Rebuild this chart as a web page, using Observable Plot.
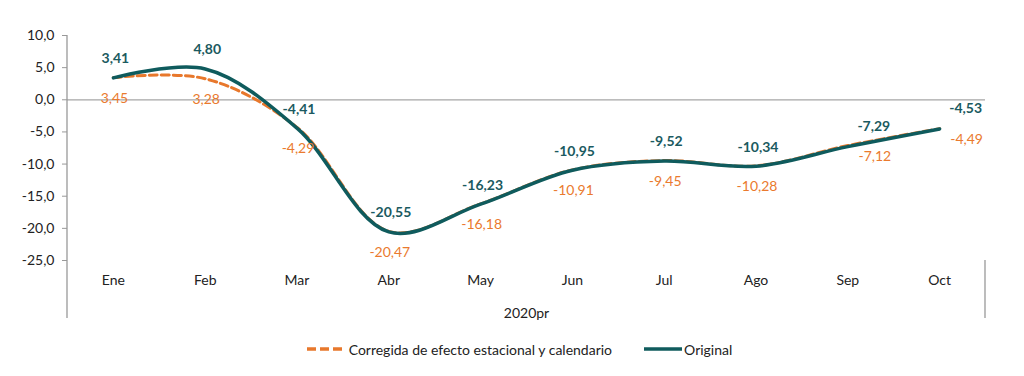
<!DOCTYPE html>
<html><head><meta charset="utf-8">
<script src="https://cdn.jsdelivr.net/npm/d3@7"></script>
<script src="https://cdn.jsdelivr.net/npm/@observablehq/plot@0.6"></script>
<style>
body{margin:0;background:#fff;font-family:Lato,"Open Sans",sans-serif;}
#legend{display:flex;justify-content:center;align-items:center;height:38px;padding-left:14px;font-size:14px;color:#222;}
#legend .item{display:flex;align-items:center;}
</style>
</head><body>
<div id="chart"></div>
<div id="legend"></div>
<script>
const months = ["Ene","Feb","Mar","Abr","May","Jun","Jul","Ago","Sep","Oct"];
const original = [3.41,4.80,-4.41,-20.55,-16.23,-10.95,-9.52,-10.34,-7.29,-4.53];
const corregida = [3.45,3.28,-4.29,-20.47,-16.18,-10.91,-9.45,-10.28,-7.12,-4.49];
const yTicks = [10,5,0,-5,-10,-15,-20,-25];
const xTitle = "2020pr";
const seriesNames = ["Corregida de efecto estacional y calendario","Original"];

const TEAL = "#0f5b5d", TEAL_TXT = "#1b5a60", ORANGE = "#e8782c", ORANGE_TXT = "#ea7a2e";
const fmt = d => d.toFixed(2).replace(".", ",");
const fmtY = d => d.toFixed(1).replace(".", ",");

const dataO = months.map((m,i)=>({m, v: original[i], i}));
const dataC = months.map((m,i)=>({m, v: corregida[i], i}));

const W = 1024, H = 330, ML = 67, MR = 39, MT = 35, MB = 70;

const plot = Plot.plot({
  width: W, height: H,
  marginLeft: ML, marginRight: MR, marginTop: MT, marginBottom: MB,
  style: {fontFamily: "Lato, 'Open Sans', sans-serif", fontSize: "14px", background: "#fff", overflow: "visible"},
  x: {type: "point", domain: months, padding: 0.5, round: false},
  y: {domain: [-25, 10]},
  marks: [
    Plot.ruleY([0], {stroke: "#a6a6a6", strokeWidth: 1.3}),
    Plot.axisY({ticks: yTicks, tickFormat: fmtY, tickSize: 5, tickPadding: 8, stroke: "#999", fill: "#222", fontSize: 14, label: null}),
    Plot.axisX({tickSize: 0, tickPadding: 15, fill: "#222", fontSize: 14, label: null}),
    Plot.text([xTitle], {frameAnchor: "bottom", dy: 57, fill: "#222", fontSize: 14}),
    Plot.line(dataC, {x: "m", y: "v", curve: "catmull-rom", stroke: ORANGE, strokeWidth: 3, strokeDasharray: "8,4"}),
    Plot.line(dataO, {x: "m", y: "v", curve: "catmull-rom", stroke: TEAL, strokeWidth: 3.5}),
    Plot.text(dataO.filter(d=>d.i<8), {x: "m", y: "v", text: d=>fmt(d.v), dy: -19, dx: 2, fill: TEAL_TXT, fontWeight: "bold", fontSize: 14}),
    Plot.text(dataO.filter(d=>d.i>=8), {x: "m", y: "v", text: d=>fmt(d.v), dy: -20, dx: 26, fill: TEAL_TXT, fontWeight: "bold", fontSize: 14}),
    Plot.text(dataC.filter(d=>d.i<8), {x: "m", y: "v", text: d=>fmt(d.v), dy: 21, dx: 1, fill: ORANGE_TXT, fontSize: 14}),
    Plot.text(dataC.filter(d=>d.i>=8), {x: "m", y: "v", text: d=>fmt(d.v), dy: 11, dx: 27, fill: ORANGE_TXT, fontSize: 14})
  ]
});
document.getElementById("chart").appendChild(plot);

// axis frame lines
const y = plot.scale("y");
const svg = d3.select(plot);
const bottom = y.apply(-25) + 58;
svg.append("line").attr("x1", ML).attr("x2", ML).attr("y1", y.apply(10)).attr("y2", bottom).attr("stroke", "#999").attr("stroke-width", 1.3);
svg.append("line").attr("x1", W - MR).attr("x2", W - MR).attr("y1", y.apply(-25)).attr("y2", bottom).attr("stroke", "#999").attr("stroke-width", 1.3);

// legend
const lg = d3.select("#legend");
const it1 = lg.append("div").attr("class","item");
it1.append("svg").attr("width", 38).attr("height", 8).append("line").attr("x1",1).attr("x2",38).attr("y1",4).attr("y2",4).attr("stroke",ORANGE).attr("stroke-width",3.5).attr("stroke-dasharray","9,4");
it1.append("span").style("margin-left","5px").text(seriesNames[0]);
const it2 = lg.append("div").attr("class","item").style("margin-left","32px");
it2.append("svg").attr("width", 38).attr("height", 8).append("line").attr("x1",0).attr("x2",38).attr("y1",4).attr("y2",4).attr("stroke",TEAL).attr("stroke-width",3.5);
it2.append("span").style("margin-left","2px").text(seriesNames[1]);
</script>
</body></html>
